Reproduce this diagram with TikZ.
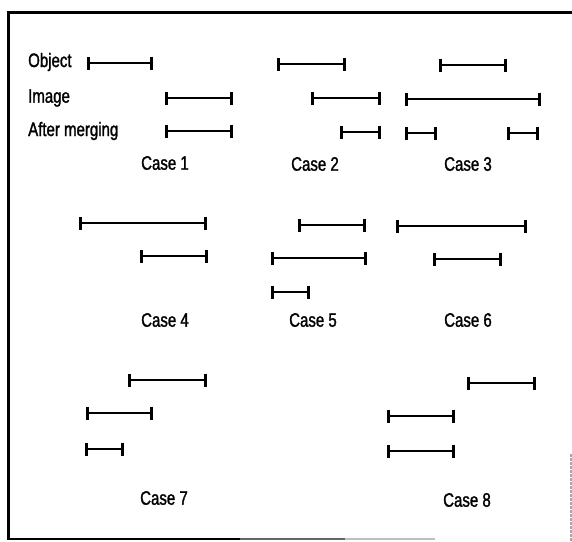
\documentclass[tikz,border=0pt]{standalone}
\usepackage{fontspec}
\setmainfont{Liberation Sans}[FakeStretch=0.77,FakeBold=1.4]
\usetikzlibrary{arrows.meta}
\tikzset{
  seg/.style={line width=2.4pt,
    {Bar[width=13pt,line width=2.6pt]}-{Bar[width=13pt,line width=2.6pt]}},
  lbl/.style={font=\fontsize{19.5}{19.5}\selectfont, inner sep=0pt},
  rowlbl/.style={lbl, anchor=west},
  frame/.style={line width=3pt, line cap=rect},
}
\begin{document}
\begin{tikzpicture}[x=1pt,y=-1pt]
\useasboundingbox (0,0) rectangle (572,541);

% outer frame (left, top, and the fading bottom / right edges)
\draw[frame] (8.5,538.5) -- (8.5,12) -- (572,12);
\draw[line width=2.6pt] (8.5,539) -- (240,539);
\draw[line width=2pt, black!60] (240,539) -- (345,539);
\draw[line width=1.5pt, black!25] (345,539) -- (435,539);
\draw[line width=1.2pt, black!35, dash pattern=on 3pt off 1pt] (571,454) -- (571,541);

% row labels
\node[rowlbl] (lobj) at (28,62) {Object};
\node[rowlbl] (limg) at (28,98) {Image};
\node[rowlbl] (lmrg) at (28,131) {After merging};

% Case 1
\draw[seg] (87,63) -- (153,63);
\draw[seg] (165,98) -- (233,98);
\draw[seg] (165,131) -- (233,131);
\node[lbl] (c1) at (165,163) {Case 1};

% Case 2
\draw[seg] (277,64) -- (346,64);
\draw[seg] (311,98) -- (381,98);
\draw[seg] (340,132) -- (381,132);
\node[lbl] (c2) at (315,164) {Case 2};

% Case 3
\draw[seg] (439,65) -- (507,65);
\draw[seg] (405,99) -- (541,99);
\draw[seg] (405,133) -- (437,133);
\draw[seg] (507,133) -- (539,133);
\node[lbl] (c3) at (468,164) {Case 3};

% Case 4
\draw[seg] (79,223) -- (207,223);
\draw[seg] (140,256) -- (208,256);
\node[lbl] (c4) at (165,320) {Case 4};

% Case 5
\draw[seg] (298,225) -- (366,225);
\draw[seg] (271,258) -- (367,258);
\draw[seg] (271,292) -- (310,292);
\node[lbl] (c5) at (313,320) {Case 5};

% Case 6
\draw[seg] (396,226) -- (527,226);
\draw[seg] (433,259) -- (502,259);
\node[lbl] (c6) at (468,320) {Case 6};

% Case 7
\draw[seg] (128,380) -- (207,380);
\draw[seg] (86,413) -- (153,413);
\draw[seg] (85,449) -- (124,449);
\node[lbl] (c7) at (164,498) {Case 7};

% Case 8
\draw[seg] (467,383) -- (536,383);
\draw[seg] (387,416) -- (455,416);
\draw[seg] (387,451) -- (455,451);
\node[lbl] (c8) at (467,500) {Case 8};
\end{tikzpicture}
\end{document}
